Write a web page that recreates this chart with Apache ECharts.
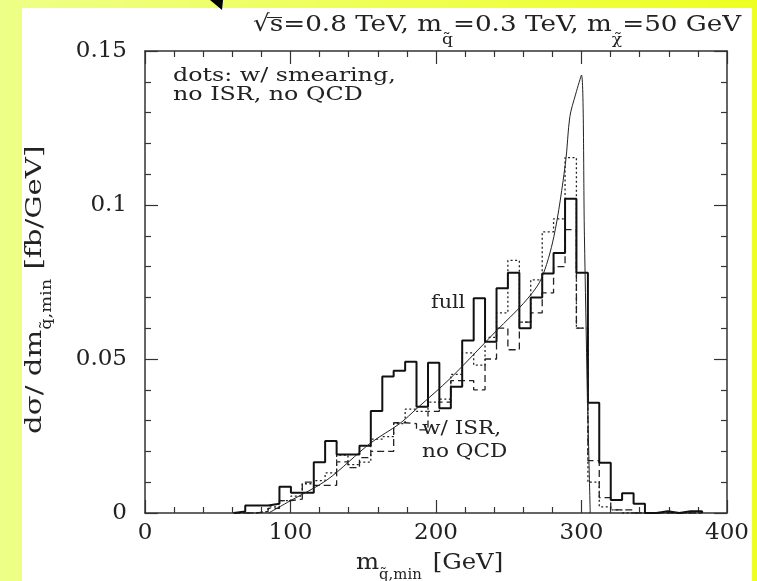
<!DOCTYPE html>
<html><head><meta charset="utf-8">
<script src="https://cdn.jsdelivr.net/npm/echarts@6/dist/echarts.min.js"></script>
<style>html,body{margin:0;padding:0;}#c{width:757px;height:581px;}</style>
</head><body><div id="c"></div>
<script>
// bin edges (GeV)
var binEdges = [61, 68.9, 76.7, 84.6, 92.4, 100.3, 108.1, 116, 123.8, 131.7, 139.5, 147.4, 155.2, 163.1, 170.9, 178.8, 186.6, 194.5, 202.3, 210.2, 218, 225.9, 233.7, 241.6, 249.4, 257.3, 265.1, 273, 280.8, 288.7, 296.5, 304.4, 312.2, 320.1, 327.9, 335.8, 343.6, 351.5, 359.3, 367.2, 375, 382.9];
// "full" histogram (solid)
var fullVals = [0.0005, 0.0024, 0.0024, 0.003, 0.0085, 0.0066, 0.0066, 0.0165, 0.0234, 0.019, 0.019, 0.0218, 0.0331, 0.0443, 0.0462, 0.0491, 0.0345, 0.0488, 0.034, 0.041, 0.056, 0.0697, 0.0556, 0.073, 0.078, 0.060, 0.070, 0.0778, 0.0844, 0.102, 0.078, 0.0358, 0.0163, 0.0042, 0.0064, 0.003, 0, 0.0006, 0, 0.0006, 0.0006];
// dotted: w/ smearing, no ISR, no QCD
var smearVals = [0, 0, 0.0005, 0.002, 0.004, 0.0055, 0.0095, 0.0105, 0.013, 0.0188, 0.0157, 0.0165, 0.024, 0.0248, 0.029, 0.0337, 0.033, 0.036, 0.037, 0.045, 0.052, 0.048, 0.057, 0.065, 0.082, 0.062, 0.0757, 0.0913, 0.0955, 0.1154, 0.060, 0.010, 0.002, 0.001, 0, 0, 0, 0, 0, 0, 0];
// dashed: w/ ISR, no QCD
var isrVals = [0, 0, 0.0005, 0.0015, 0.004, 0.0045, 0.010, 0.009, 0.009, 0.0166, 0.0147, 0.018, 0.020, 0.020, 0.0293, 0.029, 0.027, 0.033, 0.036, 0.043, 0.043, 0.040, 0.050, 0.060, 0.053, 0.062, 0.065, 0.0715, 0.080, 0.092, 0.060, 0.017, 0.005, 0.001, 0.001, 0, 0, 0, 0, 0, 0];
// smooth parton-level curve
var curveX = [85, 100, 125, 155, 175, 187, 210, 242, 260, 272, 281, 289, 292, 296, 300, 302, 304, 306];
var curveY = [0.0, 0.004, 0.0107, 0.0227, 0.029, 0.034, 0.0438, 0.0594, 0.068, 0.0757, 0.0897, 0.1136, 0.1287, 0.136, 0.1422, 0.09, 0.04, 0.0];

function stepPoints(edges, vals) {
  var pts = [[edges[0], 0]];
  for (var i = 0; i < vals.length; i++) {
    pts.push([edges[i], vals[i]]);
    pts.push([edges[i + 1], vals[i]]);
  }
  pts.push([edges[vals.length], 0]);
  return pts;
}
function zip(a, b) { return a.map(function (v, i) { return [v, b[i]]; }); }

var FONT = 'DejaVu Serif';
var INK = '#222';
var chart = echarts.init(document.getElementById('c'), null, {renderer: 'canvas'});
function axisCommon() {
  return {
    axisLine: {show: true, onZero: false, lineStyle: {color: '#333', width: 1.5}},
    axisTick: {show: true, inside: true, length: 13, lineStyle: {color: '#333', width: 1.2}},
    minorTick: {show: true, splitNumber: 5, length: 6, lineStyle: {color: '#333', width: 1.2}},
    splitLine: {show: false}
  };
}
var option = {
  backgroundColor: {type: 'linear', x: 0, y: 0, x2: 1, y2: 0, colorStops: [{offset: 0, color: '#eeff88'}, {offset: 1, color: '#eeff22'}]},
  animation: false,
  grid: {left: 145, right: 30, top: 51, bottom: 68},
  xAxis: [
    Object.assign({type: 'value', min: 0, max: 400, interval: 100, position: 'bottom',
      axisLabel: {fontFamily: FONT, fontSize: 23, color: INK, margin: 9}}, axisCommon()),
    Object.assign({type: 'value', min: 0, max: 400, interval: 100, position: 'top',
      axisLabel: {show: false}}, axisCommon())
  ],
  yAxis: [
    Object.assign({type: 'value', min: 0, max: 0.15, interval: 0.05, position: 'left',
      axisLabel: {fontFamily: FONT, fontSize: 23, color: INK, margin: 18, formatter: function (v) { return String(+v.toFixed(2)); }}}, axisCommon()),
    Object.assign({type: 'value', min: 0, max: 0.15, interval: 0.05, position: 'right',
      axisLabel: {show: false}}, axisCommon())
  ],
  series: [
    {type: 'line', data: stepPoints(binEdges, fullVals), symbol: 'none', lineStyle: {color: '#111', width: 2}, z: 5},
    {type: 'line', data: stepPoints(binEdges, smearVals), symbol: 'none', lineStyle: {color: '#222', width: 1.3, type: [2, 2.5]}, z: 4},
    {type: 'line', data: stepPoints(binEdges, isrVals), symbol: 'none', lineStyle: {color: '#222', width: 1.3, type: [7, 4]}, z: 4},
    {type: 'line', data: zip(curveX, curveY), symbol: 'none', smooth: 0.3, lineStyle: {color: '#222', width: 1}, z: 6}
  ],
  graphic: [
    {type: 'rect', z: -10, shape: {x: 22, y: 8, width: 730, height: 573}, style: {fill: '#fff'}},
    {type: 'polygon', z: -5, shape: {points: [[210, 0], [223, 0], [222, 10]]}, style: {fill: '#000'}},
    {type: 'line', shape: {x1: 267, y1: 17.5, x2: 282, y2: 17.5}, style: {stroke: INK, lineWidth: 1}},
    {type: 'text', x: 253, y: 14, scaleX: 1.14, style: {
      text: '{a|√s=0.8 TeV, m}{s|q̃}{a|=0.3 TeV, m}{s|χ̃}{a|=50 GeV}',
      rich: {
        a: {fontFamily: FONT, fontSize: 23, lineHeight: 28, verticalAlign: 'top', fill: INK},
        s: {fontFamily: FONT, fontSize: 15, lineHeight: 18, verticalAlign: 'top', padding: [19, 0, 0, 0], fill: INK}
      }}},
    {type: 'text', x: 173, y: 67, scaleX: 1.32, style: {text: 'dots: w/ smearing,\nno ISR, no QCD', fontFamily: FONT, fontSize: 18, lineHeight: 19, fill: INK}},
    {type: 'text', x: 431, y: 294, scaleX: 1.15, style: {text: 'full', fontFamily: FONT, fontSize: 18, fill: INK}},
    {type: 'text', x: 422, y: 418, scaleX: 1.2, style: {text: 'w/ ISR,\nno QCD', fontFamily: FONT, fontSize: 18, lineHeight: 23, fill: INK}},
    {type: 'text', x: 356, y: 552, scaleX: 1.06, style: {
      text: '{a|m}{s|q̃,min}{a| [GeV]}',
      rich: {
        a: {fontFamily: FONT, fontSize: 23, lineHeight: 28, verticalAlign: 'top', fill: INK},
        s: {fontFamily: FONT, fontSize: 14, lineHeight: 16, verticalAlign: 'top', padding: [16, 3, 0, 0], fill: INK}
      }}},
    {type: 'text', x: 24, y: 434, rotation: Math.PI / 2, scaleX: 1.27, style: {
      text: '{a|dσ/ dm}{s|q̃,min}{a| [fb/GeV]}',
      rich: {
        a: {fontFamily: FONT, fontSize: 23, lineHeight: 28, verticalAlign: 'top', fill: INK},
        s: {fontFamily: FONT, fontSize: 14, lineHeight: 16, verticalAlign: 'top', padding: [16, 0, 0, 0], fill: INK}
      }}}
  ]
};
chart.setOption(option);
</script></body></html>
